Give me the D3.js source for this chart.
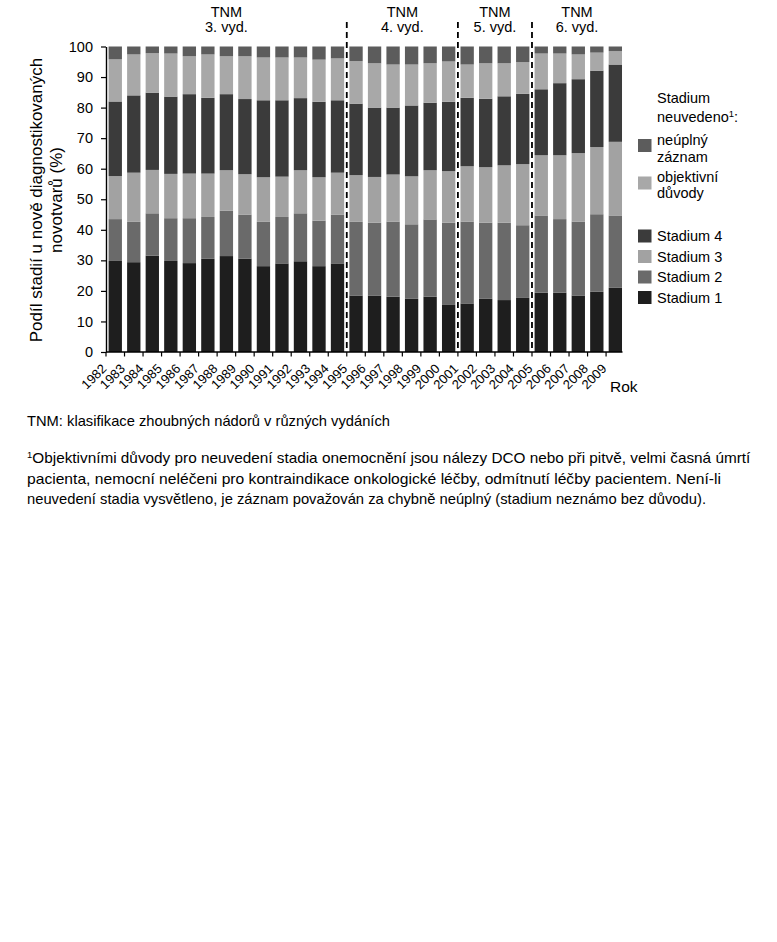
<!DOCTYPE html>
<html>
<head>
<meta charset="utf-8">
<script src="https://cdn.jsdelivr.net/npm/d3@7"></script>
<style>
  html, body { margin: 0; padding: 0; background: #fff; }
  svg text { font-family: "Liberation Sans", Arial, sans-serif; fill: #000; }
</style>
</head>
<body>
<svg id="chart" width="777" height="942"></svg>
<script>
// ---- data ----
const years = ["1982","1983","1984","1985","1986","1987","1988","1989","1990","1991","1992","1993","1994",
               "1995","1996","1997","1998","1999","2000","2001","2002","2003","2004","2005","2006","2007","2008","2009"];
const stage1 = [29.8,29.4,31.5,29.8,29.1,30.5,31.4,30.6,28.1,29.0,29.7,28.1,29.0,
                18.5,18.5,18.1,17.4,18.1,15.4,15.9,17.4,17.0,17.7,19.4,19.4,18.5,19.7,21.0];
const stage2 = [13.7,13.2,13.9,14.0,14.7,13.7,14.9,14.4,14.5,15.2,15.7,14.9,16.0,
                24.1,23.8,24.6,24.4,25.3,26.9,26.8,24.9,25.3,23.8,25.3,24.1,24.2,25.4,23.7];
const stage3 = [14.1,16.1,14.2,14.5,14.6,14.2,13.2,13.2,14.6,13.2,14.1,14.2,13.7,
                15.3,15.0,15.4,15.7,16.1,16.9,18.1,18.2,18.8,20.0,19.7,20.9,22.4,22.0,24.1];
const stage4 = [24.4,25.3,25.3,25.3,26.0,24.8,24.9,24.6,25.2,25.0,23.6,24.7,23.7,
                23.4,22.7,21.9,23.2,22.1,22.7,22.4,22.4,22.6,23.0,21.6,23.6,24.2,25.0,25.3];
const objective = [13.8,13.4,12.9,14.1,12.4,14.2,12.4,14.0,14.0,14.0,13.3,13.8,13.7,
                   13.9,14.5,14.1,13.4,12.9,13.2,10.9,11.6,10.8,10.4,11.7,9.7,8.1,5.9,4.4];
const incomplete = [4.2,2.6,2.2,2.3,3.2,2.6,3.2,3.2,3.6,3.6,3.6,4.3,3.9,
                    4.8,5.5,5.9,5.9,5.5,4.9,5.9,5.5,5.5,5.1,2.3,2.3,2.6,2.0,1.5];
const seriesKeys = ["stage1","stage2","stage3","stage4","objective","incomplete"];
const seriesColors = ["#1e1e1e","#6a6a6a","#a2a2a2","#3b3b3b","#a8a8a8","#5c5c5c"];
const editionStartYears = ["1982","1995","2001","2005"];
const editionLabels = ["3. vyd.","4. vyd.","5. vyd.","6. vyd."];
const yTicks = [0,10,20,30,40,50,60,70,80,90,100];

// ---- table for the stack ----
const table = years.map((y, i) => ({
  year: y, stage1: stage1[i], stage2: stage2[i], stage3: stage3[i],
  stage4: stage4[i], objective: objective[i], incomplete: incomplete[i]
}));

const svg = d3.select("#chart");
const FONT = 14.5;

const x = d3.scaleBand().domain(years).range([106, 624.6]).paddingInner(0.28).paddingOuter(0.14);
const y = d3.scaleLinear().domain([0, 100]).range([352, 46.5]);
const step = x.step();
const xLeft = x.range()[0];
const gapHalf = (step - x.bandwidth()) / 2;
const lastRight = x(years[years.length - 1]) + x.bandwidth();

// ---- bars ----
const stacked = d3.stack().keys(seriesKeys)(table);
svg.append("g").selectAll("g").data(stacked).join("g")
  .attr("fill", (d, i) => seriesColors[i])
  .selectAll("rect").data(d => d).join("rect")
  .attr("x", d => x(d.data.year))
  .attr("width", x.bandwidth())
  .attr("y", d => y(d[1]))
  .attr("height", d => y(d[0]) - y(d[1]));

// ---- y axis ----
const yAxis = d3.axisLeft(y).tickValues(yTicks).tickSizeInner(5).tickSizeOuter(0).tickPadding(8);
const gy = svg.append("g").attr("transform", "translate(106,0)").call(yAxis);
gy.select(".domain").attr("stroke", "#000").attr("stroke-width", 1.4);
gy.selectAll(".tick line").attr("stroke", "#000").attr("stroke-width", 1.2);
gy.selectAll(".tick text").style("font-size", "14.5px").style("font-family", "Liberation Sans, Arial, sans-serif").attr("fill", "#000");

// ---- x axis ----
const gx = svg.append("g");
gx.append("line").attr("x1", xLeft).attr("x2", lastRight + 0.5).attr("y1", y(0)).attr("y2", y(0))
  .attr("stroke", "#000").attr("stroke-width", 1.4);
gx.selectAll("line.tk").data(years).join("line").attr("class", "tk")
  .attr("x1", d => x(d) - gapHalf)
  .attr("x2", d => x(d) - gapHalf)
  .attr("y1", y(0)).attr("y2", y(0) + 4.5)
  .attr("stroke", "#000").attr("stroke-width", 1.2);
gx.selectAll("text.yl").data(years).join("text").attr("class", "yl")
  .attr("transform", d => `translate(${x(d) + x.bandwidth() / 2 - 8},${y(0) + 17.5}) rotate(-45)`)
  .attr("text-anchor", "end")
  .style("font-size", "13px")
  .text(d => d);
svg.append("text").attr("x", 610).attr("y", 392).style("font-size", "15.5px").text("Rok");

// ---- edition separators and labels ----
const sepYears = editionStartYears.slice(1);
svg.append("g").selectAll("line").data(sepYears).join("line")
  .attr("x1", d => x(d) - gapHalf)
  .attr("x2", d => x(d) - gapHalf)
  .attr("y1", 22).attr("y2", y(0))
  .attr("stroke", "#000").attr("stroke-width", 1.8).attr("stroke-dasharray", "6,4");

const sepX = editionStartYears.map((d, i) => i === 0 ? xLeft : x(d) - gapHalf);
sepX.push(lastRight);
const edG = svg.append("g");
editionLabels.forEach((lab, i) => {
  const cx = (sepX[i] + sepX[i + 1]) / 2;
  const t = edG.append("text").attr("text-anchor", "middle").style("font-size", FONT + "px");
  t.append("tspan").attr("x", cx).attr("y", 17).text("TNM");
  t.append("tspan").attr("x", cx).attr("y", 32).text(lab);
});

// ---- y title ----
const yt = svg.append("text").attr("transform", "rotate(-90)")
  .attr("text-anchor", "middle").style("font-size", "17px");
yt.append("tspan").attr("x", -200).attr("y", 42).text("Podíl stadií u nově diagnostikovaných");
yt.append("tspan").attr("x", -200).attr("y", 62).text("novotvarů (%)");

// ---- legend ----
const lg = svg.append("g").style("font-size", FONT + "px");
const lt = lg.append("text");
lt.append("tspan").attr("x", 657).attr("y", 103).text("Stadium");
lt.append("tspan").attr("x", 657).attr("y", 121.5).text("neuvedeno");
lt.append("tspan").attr("dy", -5).style("font-size", "9.5px").text("1");
lt.append("tspan").attr("dy", 5).text(":");

const legendItems = [
  {key: "incomplete", lines: ["neúplný", "záznam"], sy: 139, ty: 145},
  {key: "objective", lines: ["objektivní", "důvody"], sy: 176.5, ty: 181.5},
  {key: "stage4", lines: ["Stadium 4"], sy: 229.5, ty: 241},
  {key: "stage3", lines: ["Stadium 3"], sy: 250, ty: 261.7},
  {key: "stage2", lines: ["Stadium 2"], sy: 270.5, ty: 282.3},
  {key: "stage1", lines: ["Stadium 1"], sy: 291, ty: 303}
];
legendItems.forEach(it => {
  lg.append("rect").attr("x", 638).attr("y", it.sy).attr("width", 13.5).attr("height", 13)
    .attr("fill", seriesColors[seriesKeys.indexOf(it.key)]);
  const t = lg.append("text");
  it.lines.forEach((ln, j) => t.append("tspan").attr("x", 657).attr("y", it.ty + j * 16.5).text(ln));
});

// ---- footnotes ----
const fn = svg.append("g").style("font-size", "15px");
fn.append("text").attr("x", 27).attr("y", 426)
  .attr("textLength", 363).attr("lengthAdjust", "spacingAndGlyphs")
  .text("TNM: klasifikace zhoubných nádorů v různých vydáních");
const f2 = fn.append("text").attr("x", 27).attr("y", 463);
f2.append("tspan").attr("dy", -5).style("font-size", "9.5px").text("1");
f2.append("tspan").attr("dy", 5)
  .attr("textLength", 718).attr("lengthAdjust", "spacingAndGlyphs")
  .text("Objektivními důvody pro neuvedení stadia onemocnění jsou nálezy DCO nebo při pitvě, velmi časná úmrtí");
fn.append("text").attr("x", 27).attr("y", 483.5)
  .attr("textLength", 694).attr("lengthAdjust", "spacingAndGlyphs")
  .text("pacienta, nemocní neléčeni pro kontraindikace onkologické léčby, odmítnutí léčby pacientem. Není-li");
fn.append("text").attr("x", 27).attr("y", 504)
  .attr("textLength", 679).attr("lengthAdjust", "spacingAndGlyphs")
  .text("neuvedení stadia vysvětleno, je záznam považován za chybně neúplný (stadium neznámo bez důvodu).");
</script>
</body>
</html>
